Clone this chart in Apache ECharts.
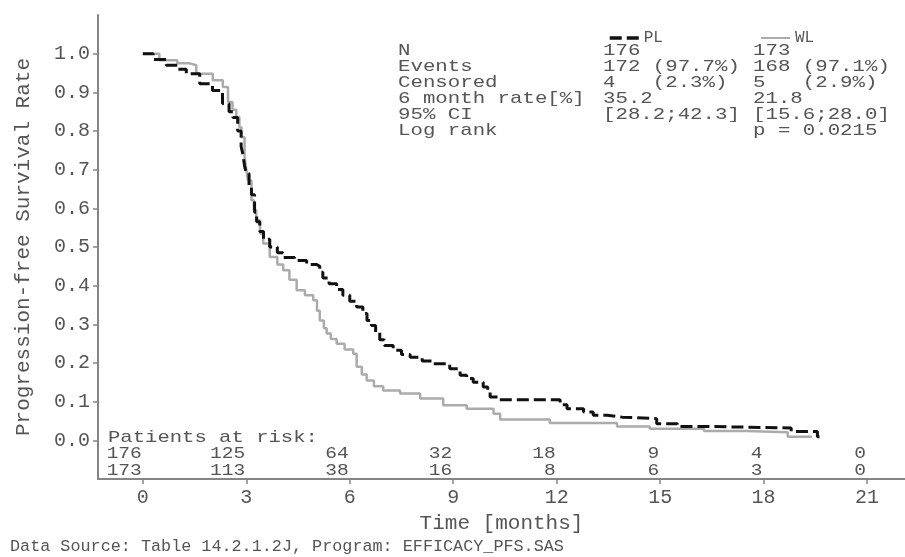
<!DOCTYPE html>
<html><head><meta charset="utf-8">
<script src="https://cdn.jsdelivr.net/npm/echarts@6/dist/echarts.min.js"></script>
<style>html,body{margin:0;padding:0;background:#fff}#c{width:905px;height:557px}</style>
</head><body><div id="c"></div>
<script>
// ---- data ----
const seriesNames = ['PL', 'WL'];
const plTimes = [0,0.3,0.68,1.0,1.26,1.65,2.02,2.31,2.5,2.61,2.75,2.85,2.9,2.95,3.0,3.08,3.15,3.24,3.3,3.39,3.5,3.68,3.9,4.06,4.4,4.75,5.04,5.13,5.22,5.4,5.62,5.8,6.0,6.2,6.38,6.5,6.63,6.75,6.87,7.0,7.26,7.5,7.75,8.1,8.41,8.9,9.2,9.39,9.58,9.87,10.0,10.07,10.3,12.1,12.3,12.78,13.06,13.46,13.9,14.9,15.5,16.3,18.8,19.56,19.62];
const plSurv  = [1.0,0.985,0.97,0.96,0.948,0.922,0.905,0.871,0.85,0.835,0.80,0.76,0.74,0.71,0.69,0.66,0.635,0.59,0.565,0.54,0.52,0.50,0.485,0.473,0.465,0.455,0.45,0.435,0.42,0.405,0.39,0.375,0.36,0.345,0.328,0.31,0.297,0.28,0.26,0.245,0.233,0.222,0.215,0.205,0.198,0.185,0.168,0.16,0.15,0.138,0.125,0.112,0.105,0.092,0.082,0.073,0.065,0.06,0.056,0.043,0.036,0.032,0.023,0.009,0.009];
const wlTimes = [0,0.48,1.0,1.36,1.55,2.03,2.32,2.47,2.6,2.71,2.8,2.86,2.95,3.0,3.05,3.15,3.22,3.29,3.4,3.49,3.68,3.9,4.07,4.25,4.46,4.7,4.94,5.05,5.13,5.25,5.33,5.45,5.62,5.85,6.1,6.2,6.35,6.49,6.7,6.97,7.46,8.04,8.71,9.39,10.17,10.36,11.8,13.75,14.7,16.27,17.5,18.7,19.4];
const wlSurv  = [1.0,0.983,0.975,0.97,0.948,0.931,0.914,0.875,0.855,0.836,0.81,0.784,0.733,0.70,0.672,0.621,0.595,0.569,0.535,0.509,0.474,0.455,0.44,0.415,0.388,0.375,0.362,0.335,0.31,0.29,0.276,0.262,0.25,0.235,0.224,0.19,0.17,0.155,0.14,0.129,0.121,0.108,0.091,0.082,0.069,0.054,0.045,0.036,0.030,0.024,0.021,0.009,0.009];
const xTicks = [0,3,6,9,12,15,18,21];
const yTicks = [0,0.1,0.2,0.3,0.4,0.5,0.6,0.7,0.8,0.9,1.0];
const riskTimes = [0,3,6,9,12,15,18,21];
const plRisk = [176,125,64,32,18,9,4,0];
const wlRisk = [173,113,38,16,8,6,3,0];
const statLabels = ['N','Events','Censored','6 month rate[%]','95% CI','Log rank'];
const plStats = ['176','172 (97.7%)','4   (2.3%)','35.2','[28.2;42.3]',''];
const wlStats = ['173','168 (97.1%)','5   (2.9%)','21.8','[15.6;28.0]','p = 0.0215'];
const riskTitle = 'Patients at risk:';
const xName = 'Time [months]';
const yName = 'Progression-free Survival Rate';
const footer = 'Data Source: Table 14.2.1.2J, Program: EFFICACY_PFS.SAS';

// ---- chart ----
const FONT = '"Liberation Mono", "DejaVu Sans Mono", monospace';
const TXT = '#555555';
const AX = '#858585';
const chart = echarts.init(document.getElementById('c'));
const pairs = (ts, vs) => ts.map((t, i) => [t, vs[i]]);

const graphics = [];
statLabels.forEach((lab, i) => {
  const y = 50 + i * 16;
  [[398, lab], [603, plStats[i]], [753, wlStats[i]]].forEach(([x, s]) => {
    if (!s) return;
    graphics.push({type: 'text', x: x, y: y, scaleX: 1.22, silent: true,
      style: {text: s, font: '17px ' + FONT, fill: TXT, align: 'left', verticalAlign: 'middle', textAlign: 'left', textVerticalAlign: 'middle'}});
  });
});
graphics.push({type: 'text', x: 108, y: 437, scaleX: 1.21, silent: true,
  style: {text: riskTitle, font: '17px ' + FONT, fill: TXT, align: 'left', verticalAlign: 'middle', textAlign: 'left', textVerticalAlign: 'middle'}});
graphics.push({type: 'text', x: 10, y: 547, silent: true,
  style: {text: footer, font: '16.8px ' + FONT, fill: TXT, align: 'left', verticalAlign: 'middle', textAlign: 'left', textVerticalAlign: 'middle'}});

const legendBase = {top: 25, itemWidth: 29, itemHeight: 14, itemGap: 4,
  itemStyle: {opacity: 0, borderWidth: 0},
  textStyle: {fontFamily: FONT, fontSize: 16, color: TXT}};

chart.setOption({
  animation: false,
  backgroundColor: '#fff',
  textStyle: {fontFamily: FONT},
  grid: {left: 98, right: 0, top: 15, bottom: 78},
  legend: [
    Object.assign({data: [seriesNames[0]], left: 603, lineStyle: {width: 3.5, type: [12, 5], color: '#111'}}, legendBase),
    Object.assign({data: [seriesNames[1]], left: 755, lineStyle: {width: 2, color: '#ababab'}}, legendBase)
  ],
  xAxis: {
    type: 'value', min: -1.3, max: 22.1,
    name: xName, nameLocation: 'middle', nameGap: 32,
    nameTextStyle: {fontFamily: FONT, fontSize: 21, color: TXT},
    axisLine: {show: true, onZero: false, lineStyle: {color: AX, width: 2}},
    axisTick: {show: true, customValues: xTicks, length: 5, lineStyle: {color: AX, width: 1.5}},
    axisLabel: {customValues: xTicks, margin: 9, fontSize: 20, color: TXT, fontFamily: FONT},
    splitLine: {show: false}
  },
  yAxis: {
    type: 'value', min: -0.1, max: 1.1,
    name: yName, nameLocation: 'middle', nameGap: 64,
    nameTextStyle: {fontFamily: FONT, fontSize: 21, color: TXT},
    axisLine: {show: true, onZero: false, lineStyle: {color: AX, width: 2}},
    axisTick: {show: true, customValues: yTicks, length: 5, lineStyle: {color: AX, width: 1.5}},
    axisLabel: {customValues: yTicks, margin: 8, fontSize: 20, color: TXT, fontFamily: FONT,
      formatter: v => v.toFixed(1)},
    splitLine: {show: false}
  },
  graphic: {elements: graphics},
  series: [
    {name: seriesNames[1], type: 'line', step: 'end', symbol: 'none', z: 2,
     data: pairs(wlTimes, wlSurv),
     lineStyle: {color: '#ababab', width: 2.5}, itemStyle: {color: '#ababab'}},
    {name: seriesNames[0], type: 'line', step: 'end', symbol: 'none', z: 3,
     data: pairs(plTimes, plSurv),
     lineStyle: {color: '#111', width: 3, type: [12, 5]}, itemStyle: {color: '#111'}},
    {type: 'custom', silent: true, z: 5, clip: false,
     data: riskTimes.map((t, i) => [t, 0, plRisk[i], wlRisk[i]]),
     encode: {x: 0, y: 1},
     renderItem: function (params, api) {
       const x = api.coord([api.value(0), 0])[0] - 1;
       const base = api.coord([api.value(0), -0.1])[1];
       const mk = (txt, dy) => ({type: 'text', x: x, y: base - dy, scaleX: 1.15,
         style: {text: String(txt), font: '17px ' + FONT, fill: TXT, align: 'right', verticalAlign: 'middle', textAlign: 'right', textVerticalAlign: 'middle'}});
       return {type: 'group', children: [mk(api.value(2), 26), mk(api.value(3), 9)]};
     }}
  ]
});
</script>
</body></html>
